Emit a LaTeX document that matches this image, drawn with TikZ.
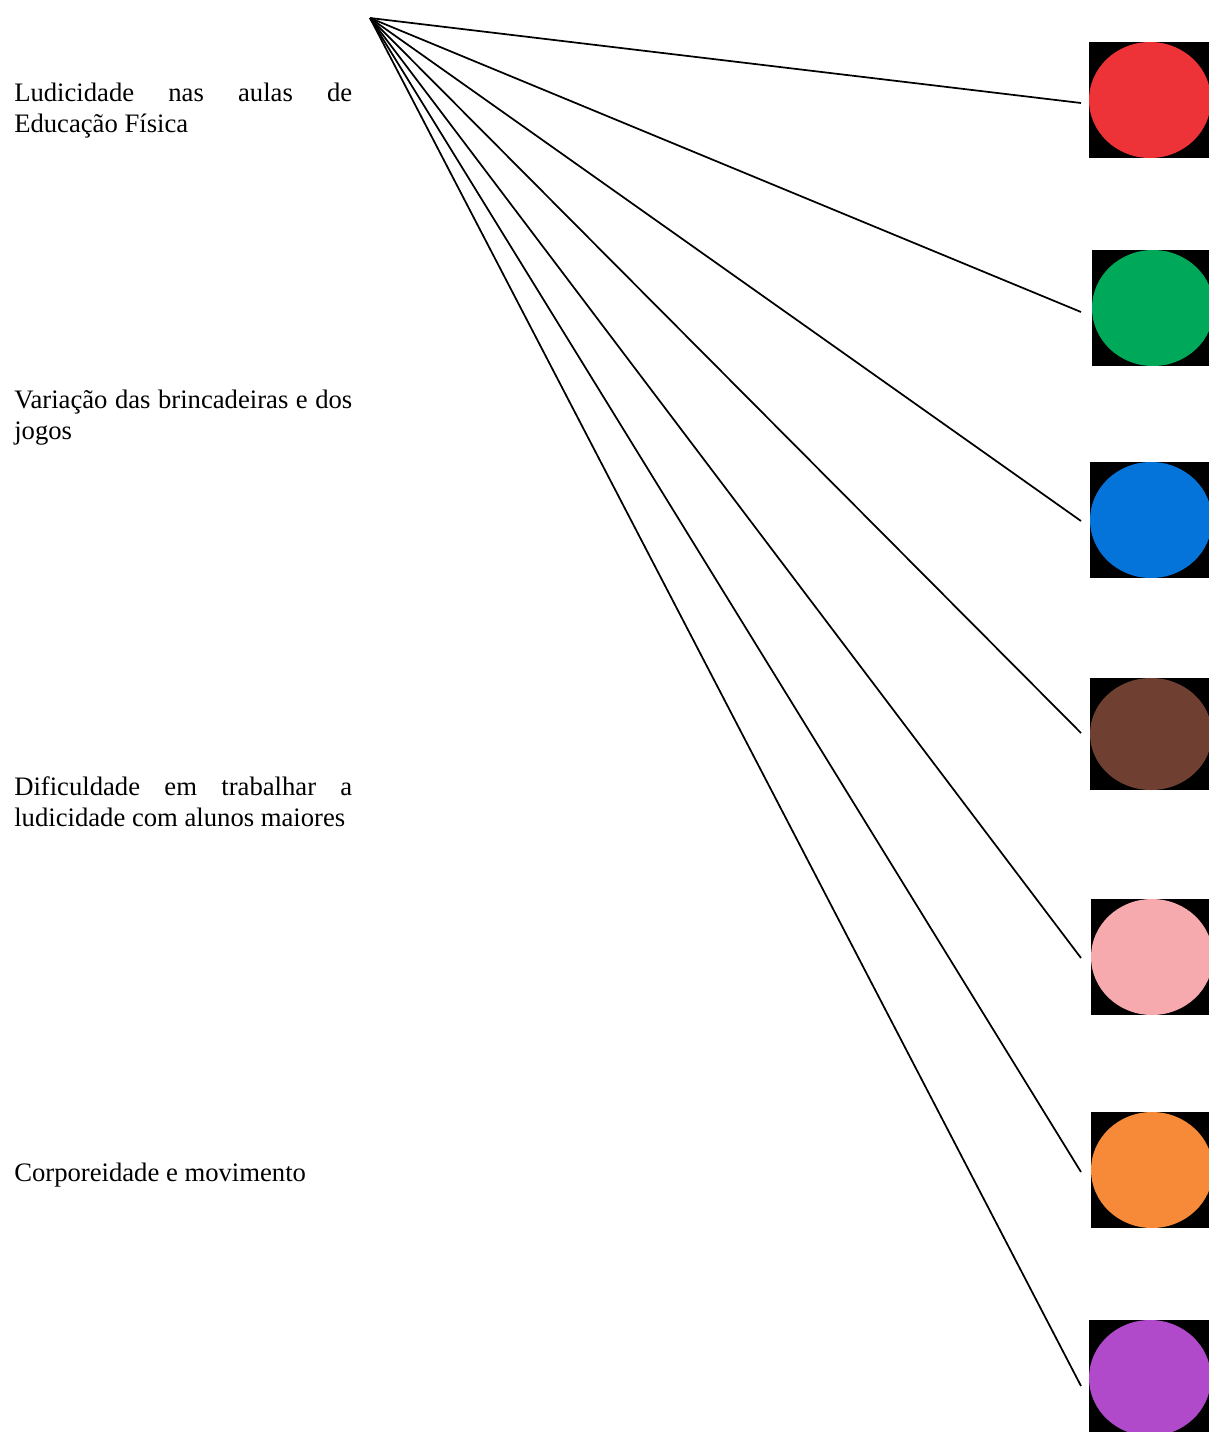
\documentclass[tikz,border=0pt]{standalone}
\usepackage{fontspec}
\setmainfont{Liberation Serif}

\definecolor{dotred}{HTML}{EE3338}
\definecolor{dotgreen}{HTML}{00A859}
\definecolor{dotblue}{HTML}{0474DA}
\definecolor{dotbrown}{HTML}{6F4032}
\definecolor{dotpink}{HTML}{F7AAAE}
\definecolor{dotorange}{HTML}{F68A38}
\definecolor{dotpurple}{HTML}{B14ACA}

\tikzset{
  theme/.style={anchor=base west, inner sep=0pt, text width=253.5pt, align=justify,
    font=\fontsize{20}{23.25}\selectfont},
  spoke/.style={black, line width=1.3pt}
}

\begin{document}
\begin{tikzpicture}[x=0.75pt,y=-0.75pt]
    \useasboundingbox (0,0) rectangle (1208,1432);

    % themes
    \node[theme] (ludico) at (14,101) {Ludicidade nas aulas de\linebreak Educação Física};
    \node[theme] (variacao) at (14,408) {Variação das brincadeiras e dos\linebreak jogos};
    \node[theme] (dificuldade) at (14,795) {Dificuldade em trabalhar a\linebreak ludicidade com alunos maiores};
    \node[theme] (corpo) at (14,1181) {Corporeidade e movimento};

    % colour dots
    \fill[black] (1089,42) rectangle (1212,158);
    \fill[dotred] (1150,100) ellipse [x radius=61, y radius=58];
    \fill[black] (1092,250) rectangle (1212,366);
    \fill[dotgreen] (1153,308) ellipse [x radius=61, y radius=58];
    \fill[black] (1090,462) rectangle (1212,578);
    \fill[dotblue] (1151,520) ellipse [x radius=61, y radius=58];
    \fill[black] (1090,678) rectangle (1212,790);
    \fill[dotbrown] (1151,734) ellipse [x radius=61, y radius=56];
    \fill[black] (1091,899) rectangle (1212,1015);
    \fill[dotpink] (1152,957) ellipse [x radius=61, y radius=58];
    \fill[black] (1091,1112) rectangle (1212,1228);
    \fill[dotorange] (1152,1170) ellipse [x radius=61, y radius=58];
    \fill[black] (1089,1320) rectangle (1212,1436);
    \fill[dotpurple] (1150,1378) ellipse [x radius=61, y radius=58];

    % spokes
    \coordinate (hub) at (370,18);
    \coordinate (e1) at (1081,103);
    \coordinate (e2) at (1081,312);
    \coordinate (e3) at (1081,521);
    \coordinate (e4) at (1081,733);
    \coordinate (e5) at (1081,958);
    \coordinate (e6) at (1081,1172);
    \coordinate (e7) at (1081,1386);
    \draw[spoke] (hub) -- (e1);
    \draw[spoke] (hub) -- (e2);
    \draw[spoke] (hub) -- (e3);
    \draw[spoke] (hub) -- (e4);
    \draw[spoke] (hub) -- (e5);
    \draw[spoke] (hub) -- (e6);
    \draw[spoke] (hub) -- (e7);
\end{tikzpicture}
\end{document}
